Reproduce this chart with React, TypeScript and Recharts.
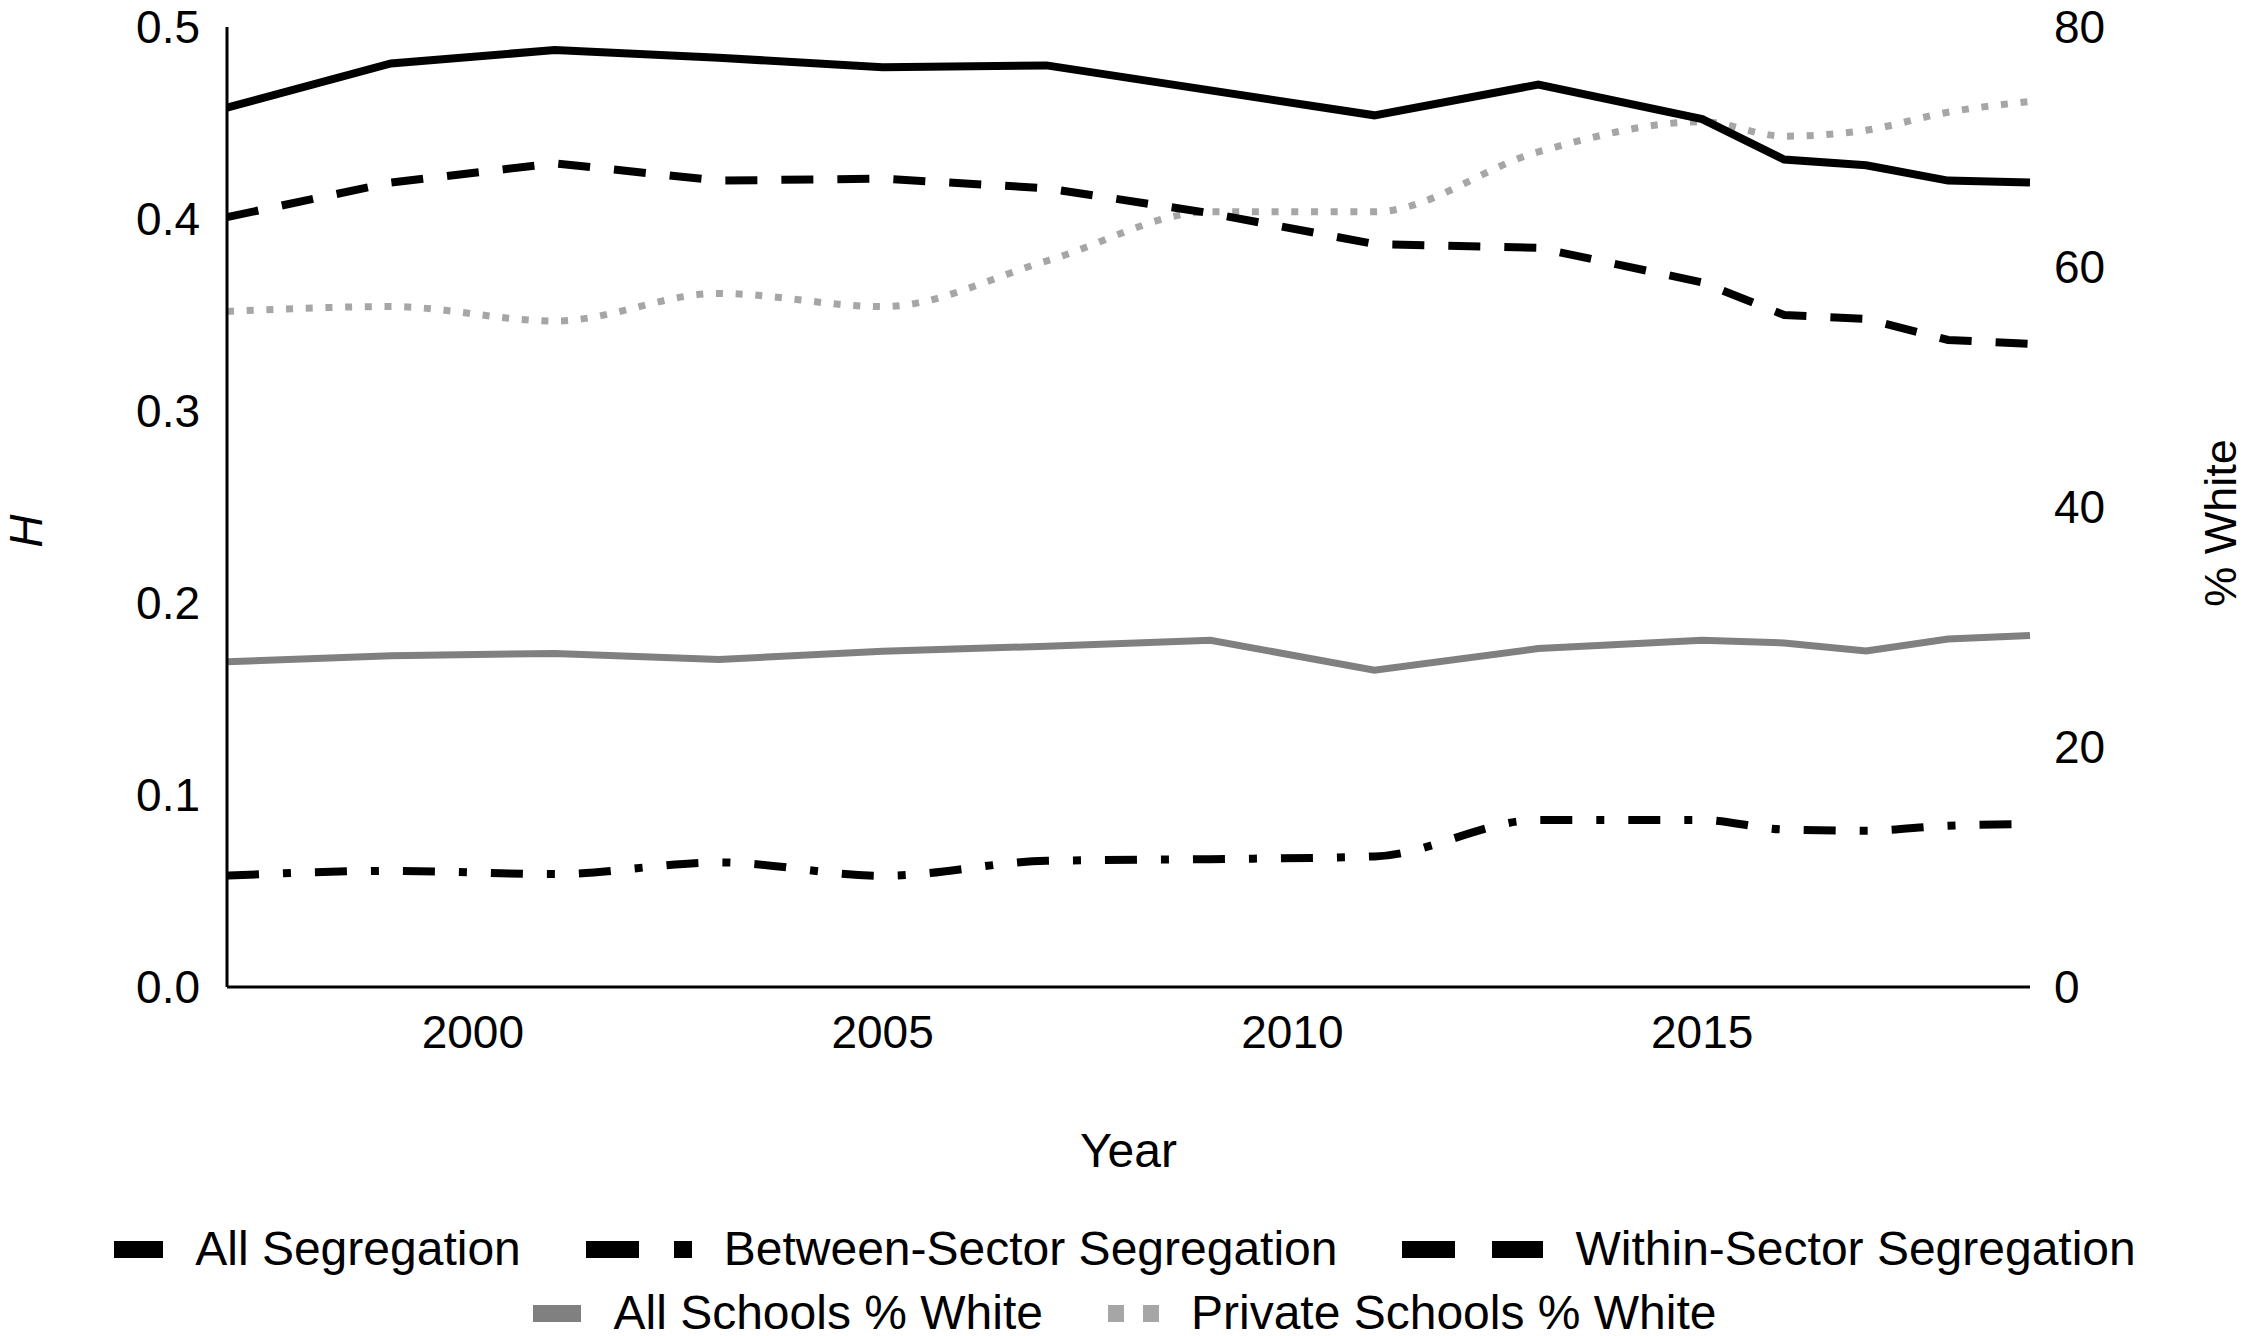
import React from "react";
import { LineChart, Line, XAxis, YAxis, Legend } from "recharts";

const years = [1997, 1999, 2001, 2003, 2005, 2007, 2009, 2011, 2013, 2015, 2016, 2017, 2018, 2019];
const allSegregation = [0.458, 0.481, 0.488, 0.484, 0.479, 0.48, 0.467, 0.454, 0.47, 0.452, 0.431, 0.428, 0.42, 0.419];
const withinSector = [0.401, 0.419, 0.429, 0.42, 0.421, 0.416, 0.403, 0.387, 0.385, 0.367, 0.35, 0.348, 0.337, 0.335];
const betweenSector = [0.058, 0.0605, 0.0588, 0.0649, 0.0579, 0.0657, 0.0666, 0.068, 0.087, 0.087, 0.082, 0.0814, 0.084, 0.0848];
const allSchoolsWhite = [27.1, 27.6, 27.8, 27.3, 27.97, 28.4, 28.9, 26.4, 28.2, 28.9, 28.67, 28.0, 29.0, 29.3];
const privateSchoolsWhite = [56.3, 56.7, 55.5, 57.8, 56.7, 60.5, 64.6, 64.6, 69.6, 72.1, 70.9, 71.4, 72.9, 73.8];

const xTicks = [2000, 2005, 2010, 2015];
const leftTicks = [0, 0.1, 0.2, 0.3, 0.4, 0.5];
const rightTicks = [0, 20, 40, 60, 80];

const data = years.map((year, i) => ({
  year,
  allSeg: allSegregation[i],
  within: withinSector[i],
  between: betweenSector[i],
  allWhite: allSchoolsWhite[i],
  privWhite: privateSchoolsWhite[i],
}));

const FONT = "'Liberation Sans', Arial, Helvetica, sans-serif";
const BLACK = "#000000";
const GRAY = "#808080";
const LIGHT = "#a6a6a6";

type IconPart = { w: number; gap?: number; color: string };
const legendRows: { label: string; parts: IconPart[] }[][] = [
  [
    { label: "All Segregation", parts: [{ w: 49, color: BLACK }] },
    { label: "Between-Sector Segregation", parts: [{ w: 53, color: BLACK }, { w: 18, gap: 35, color: BLACK }] },
    { label: "Within-Sector Segregation", parts: [{ w: 53, color: BLACK }, { w: 51, gap: 37, color: BLACK }] },
  ],
  [
    { label: "All Schools % White", parts: [{ w: 48, color: GRAY }] },
    { label: "Private Schools % White", parts: [{ w: 16, color: LIGHT }, { w: 16, gap: 19, color: LIGHT }] },
  ],
];

const renderLegend = () => (
  <div style={{ fontFamily: FONT, fontSize: 48, color: "#000", width: 2250 }}>
    {legendRows.map((row, ri) => (
      <div
        key={ri}
        style={{ display: "flex", justifyContent: "center", alignItems: "center", height: 64, lineHeight: "64px" }}
      >
        {row.map((item, ii) => (
          <div key={ii} style={{ display: "flex", alignItems: "center", marginLeft: ii === 0 ? 0 : 65 }}>
            {item.parts.map((p, pi) => (
              <span
                key={pi}
                style={{
                  display: "inline-block",
                  width: p.w,
                  height: 17,
                  background: p.color,
                  marginLeft: p.gap || 0,
                }}
              />
            ))}
            <span style={{ marginLeft: 32, whiteSpace: "nowrap" }}>{item.label}</span>
          </div>
        ))}
      </div>
    ))}
  </div>
);

export default function App() {
  return (
    <div style={{ position: "absolute", left: 0, top: 0, width: 2250, height: 1336, background: "#fff" }}>
      <LineChart
        width={2250}
        height={1336}
        data={data}
        margin={{ top: 27, right: 0, bottom: 0, left: 0 }}
        style={{ fontFamily: FONT }}
      >
        <XAxis
          dataKey="year"
          type="number"
          domain={[1997, 2019]}
          ticks={xTicks}
          interval={0}
          height={349}
          axisLine={{ stroke: BLACK, strokeWidth: 3 }}
          tickLine={false}
          tickMargin={22}
          tick={{ fontSize: 46, fill: BLACK, fontFamily: FONT }}
          label={{ value: "Year", position: "insideTop", offset: 146, fontSize: 48, fill: BLACK, fontFamily: FONT }}
        />
        <YAxis
          yAxisId="left"
          domain={[0, 0.5]}
          ticks={leftTicks}
          interval={0}
          width={227}
          axisLine={{ stroke: BLACK, strokeWidth: 3 }}
          tickLine={false}
          tickMargin={21}
          tickFormatter={(v: number) => v.toFixed(1)}
          tick={{ fontSize: 46, fill: BLACK, fontFamily: FONT }}
          label={{
            value: "H",
            angle: -90,
            position: "center",
            dx: -88,
            dy: 24,
            fontSize: 46,
            fontStyle: "italic",
            fill: BLACK,
            fontFamily: FONT,
          }}
        />
        <YAxis
          yAxisId="right"
          orientation="right"
          domain={[0, 80]}
          ticks={rightTicks}
          interval={0}
          width={220}
          axisLine={false}
          tickLine={false}
          tickMargin={18}
          tick={{ fontSize: 46, fill: BLACK, fontFamily: FONT, textAnchor: "start" }}
          label={{
            value: "% White",
            angle: -90,
            position: "center",
            dx: 80,
            dy: 16,
            fontSize: 45,
            fill: BLACK,
            fontFamily: FONT,
          }}
        />
        <Legend
          layout="vertical"
          align="center"
          verticalAlign="middle"
          wrapperStyle={{ left: 0, top: 1217, width: 2250 }}
          content={renderLegend}
        />
        <Line
          yAxisId="right"
          dataKey="privWhite"
          type="monotone"
          stroke={LIGHT}
          strokeWidth={7}
          strokeDasharray="7 12.7"
          dot={false}
          activeDot={false}
          isAnimationActive={false}
        />
        <Line
          yAxisId="right"
          dataKey="allWhite"
          type="linear"
          stroke={GRAY}
          strokeWidth={7}
          dot={false}
          activeDot={false}
          isAnimationActive={false}
        />
        <Line
          yAxisId="left"
          dataKey="between"
          type="monotone"
          stroke={BLACK}
          strokeWidth={8}
          strokeDasharray="32 24 8 24"
          dot={false}
          activeDot={false}
          isAnimationActive={false}
        />
        <Line
          yAxisId="left"
          dataKey="within"
          type="linear"
          stroke={BLACK}
          strokeWidth={8}
          strokeDasharray="32 24"
          dot={false}
          activeDot={false}
          isAnimationActive={false}
        />
        <Line
          yAxisId="left"
          dataKey="allSeg"
          type="linear"
          stroke={BLACK}
          strokeWidth={8}
          dot={false}
          activeDot={false}
          isAnimationActive={false}
        />
      </LineChart>
    </div>
  );
}
